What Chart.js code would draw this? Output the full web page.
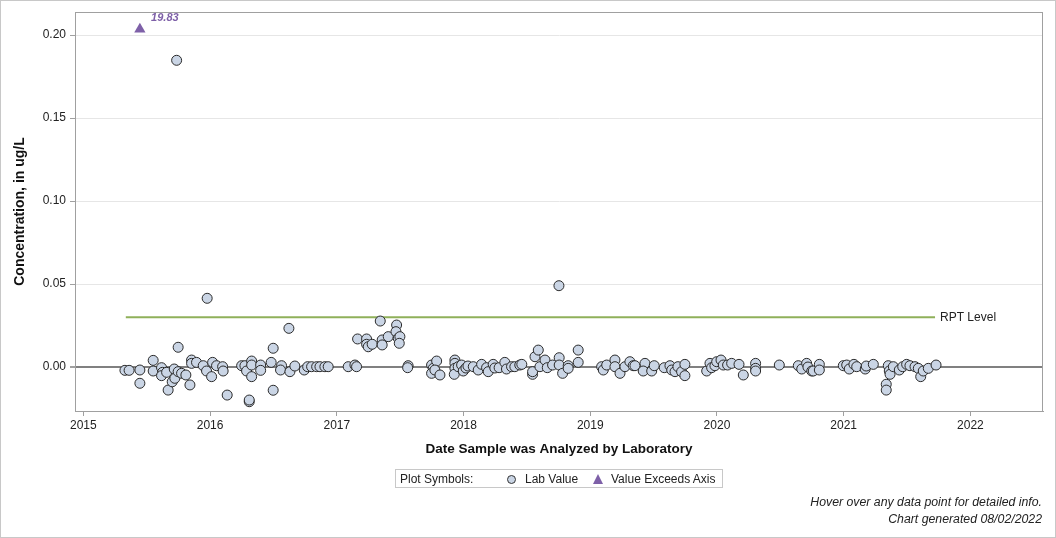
<!DOCTYPE html>
<html>
<head>
<meta charset="utf-8">
<script src="https://cdn.jsdelivr.net/npm/chart.js@4/dist/chart.umd.min.js"></script>
<style>
  html, body { margin: 0; padding: 0; background: #fff; }
  #wrap { position: relative; width: 1056px; height: 538px; overflow: hidden; font-family: "Liberation Sans", Arial, sans-serif; }
  #frame { position: absolute; left: 0; top: 0; width: 1056px; height: 538px; box-sizing: border-box; border: 1px solid #c8c8c8; pointer-events: none; }
  #legend { position: absolute; left: 395px; top: 469px; width: 328px; height: 19px; box-sizing: border-box; border: 1px solid #c8c8c8; font-size: 12px; color: #222; white-space: nowrap; }
  #legend span { position: absolute; top: 2px; }
  #legend .dot { position: absolute; top: 5px; width: 7px; height: 7px; border-radius: 50%; background: #cad5e5; border: 1px solid #333; }
  #legend .tri { position: absolute; top: 4px; width: 0; height: 0; border-left: 5px solid transparent; border-right: 5px solid transparent; border-bottom: 10px solid #7e60a8; }
  .foot { position: absolute; right: 14px; font-size: 12.3px; font-style: italic; color: #222; }
</style>
</head>
<body>
<div id="wrap">
  <canvas id="c" width="1056" height="538"></canvas>
  <div id="legend">
    <span style="left:4px">Plot Symbols:</span>
    <div class="dot" style="left:111px"></div>
    <span style="left:129px">Lab Value</span>
    <div class="tri" style="left:197px"></div>
    <span style="left:215px">Value Exceeds Axis</span>
  </div>
  <div class="foot" style="top:495px">Hover over any data point for detailed info.</div>
  <div class="foot" style="top:512px">Chart generated 08/02/2022</div>
  <div id="frame"></div>
</div>
<script>
// ---- data (decimal year of analysis, concentration in ug/L) ----
const labDates = [
  2015.328, 2015.361, 2015.446, 2015.446, 2015.551, 2015.551, 2015.617, 2015.625, 2015.617, 2015.657,
  2015.717, 2015.748, 2015.669, 2015.701, 2015.722, 2015.748, 2015.775, 2015.809, 2015.841, 2015.854,
  2015.854, 2015.893, 2015.946, 2015.972, 2015.977, 2016.012, 2016.020, 2016.051, 2016.099, 2016.103,
  2016.135, 2016.249, 2016.275, 2016.288, 2016.328, 2016.328, 2016.328, 2016.309, 2016.309, 2016.399,
  2016.399, 2016.482, 2016.498, 2016.498, 2016.564, 2016.556, 2016.622, 2016.630, 2016.669, 2016.743,
  2016.770, 2016.801, 2016.841, 2016.867, 2016.906, 2016.932, 2017.090, 2017.143, 2017.156, 2017.164,
  2017.235, 2017.235, 2017.248, 2017.279, 2017.343, 2017.358, 2017.358, 2017.406, 2017.472, 2017.467,
  2017.485, 2017.498, 2017.493, 2017.563, 2017.559, 2017.748, 2017.761, 2017.748, 2017.788, 2017.774,
  2017.814, 2017.932, 2017.932, 2017.932, 2017.927, 2017.958, 2017.985, 2017.998, 2018.019, 2018.035,
  2018.077, 2018.116, 2018.143, 2018.182, 2018.195, 2018.234, 2018.247, 2018.281, 2018.326, 2018.339,
  2018.379, 2018.405, 2018.444, 2018.460, 2018.545, 2018.545, 2018.564, 2018.590, 2018.603, 2018.643,
  2018.661, 2018.703, 2018.753, 2018.755, 2018.755, 2018.782, 2018.826, 2018.826, 2018.905, 2018.905,
  2019.090, 2019.103, 2019.130, 2019.195, 2019.195, 2019.235, 2019.274, 2019.313, 2019.339, 2019.353,
  2019.432, 2019.418, 2019.485, 2019.505, 2019.584, 2019.629, 2019.643, 2019.669, 2019.692, 2019.721,
  2019.747, 2019.747, 2019.919, 2019.945, 2019.958, 2019.984, 2019.998, 2020.032, 2020.050, 2020.084,
  2020.116, 2020.174, 2020.208, 2020.305, 2020.305, 2020.305, 2020.492, 2020.642, 2020.669, 2020.708,
  2020.718, 2020.748, 2020.760, 2020.808, 2020.808, 2020.997, 2021.024, 2021.044, 2021.081, 2021.103,
  2021.170, 2021.178, 2021.234, 2021.336, 2021.336, 2021.352, 2021.360, 2021.366, 2021.392, 2021.439,
  2021.466, 2021.497, 2021.523, 2021.563, 2021.589, 2021.608, 2021.628, 2021.668, 2021.729, 2015.736
];
const labValues = [
  -0.0020, -0.0020, -0.0018, -0.0098, 0.0040, -0.0024, -0.0004, -0.0032, -0.0052, -0.0032,
  -0.0012, 0.0119, -0.0139, -0.0089, -0.0068, -0.0028, -0.0038, -0.0048, -0.0108, 0.0042,
  0.0022, 0.0028, 0.0008, -0.0024, 0.0414, -0.0058, 0.0028, 0.0008, 0.0002, -0.0024,
  -0.0169, 0.0008, 0.0008, -0.0024, 0.0036, 0.0012, -0.0058, -0.0209, -0.0199, 0.0012,
  -0.0020, 0.0028, 0.0113, -0.0140, 0.0008, -0.0018, 0.0233, -0.0028, 0.0006, -0.0018,
  0.0002, 0.0002, 0.0002, 0.0002, 0.0002, 0.0002, 0.0002, 0.0012, 0.0002, 0.0169,
  0.0169, 0.0137, 0.0122, 0.0137, 0.0277, 0.0163, 0.0133, 0.0183, 0.0253, 0.0213,
  0.0173, 0.0183, 0.0143, 0.0008, -0.0004, 0.0012, -0.0008, -0.0038, 0.0036, -0.0018,
  -0.0048, 0.0042, 0.0022, -0.0008, -0.0044, 0.0002, 0.0012, -0.0024, -0.0006, 0.0006,
  0.0002, -0.0018, 0.0016, -0.0004, -0.0028, 0.0016, -0.0006, -0.0004, 0.0028, -0.0012,
  0.0002, 0.0002, 0.0012, 0.0016, -0.0044, -0.0028, 0.0062, 0.0102, 0.0002, 0.0042,
  -0.0004, 0.0012, 0.0490, 0.0056, 0.0012, -0.0038, 0.0008, -0.0008, 0.0102, 0.0028,
  0.0002, -0.0018, 0.0012, 0.0042, 0.0002, -0.0038, 0.0002, 0.0032, 0.0008, 0.0008,
  0.0022, -0.0024, -0.0024, 0.0008, -0.0004, 0.0008, -0.0018, -0.0028, 0.0002, -0.0028,
  0.0016, -0.0052, -0.0024, 0.0022, -0.0004, 0.0008, 0.0032, 0.0042, 0.0012, 0.0012,
  0.0022, 0.0016, -0.0048, 0.0022, -0.0008, -0.0024, 0.0012, 0.0008, -0.0012, 0.0022,
  0.0000, -0.0024, -0.0024, 0.0016, -0.0018, 0.0008, 0.0012, -0.0012, 0.0016, 0.0002,
  -0.0012, 0.0006, 0.0016, -0.0104, -0.0139, 0.0008, -0.0024, -0.0044, 0.0002, -0.0018,
  0.0002, 0.0016, 0.0008, 0.0002, -0.0008, -0.0058, -0.0024, -0.0008, 0.0012, 0.1848
];
// value exceeding the axis: plotted at the axis cap, actual value shown as label
const exceedDates = [2015.446];
const exceedPlotValues = [0.2035];
const exceedLabels = ["19.83"];
// reporting level line
const rptLevel = 0.03;
const rptStart = 2015.335;
const rptEnd = 2021.721;
const rptLabel = "RPT Level";
// axes
const xTicks = [2015, 2016, 2017, 2018, 2019, 2020, 2021, 2022];
const yTicks = [0.00, 0.05, 0.10, 0.15, 0.20];
const xMin = 2014.934, xMax = 2022.573;
const yMin = -0.0265, yMax = 0.2139;

const FONT = '"Liberation Sans", Arial, sans-serif';

const annotate = {
  id: 'annotate',
  afterDraw(chart) {
    const {ctx, chartArea: a, scales: {x, y}} = chart;
    ctx.save();
    // plot frame
    ctx.strokeStyle = '#a0a0a0';
    ctx.lineWidth = 1;
    ctx.strokeRect(a.left + 0.5, a.top + 0.5, a.right - a.left - 1, a.bottom - a.top);
    // RPT label
    ctx.fillStyle = '#222';
    ctx.font = '12px ' + FONT;
    ctx.textBaseline = 'middle';
    ctx.textAlign = 'left';
    ctx.fillText(rptLabel, x.getPixelForValue(rptEnd) + 5, y.getPixelForValue(rptLevel));
    // exceed labels
    ctx.fillStyle = '#7e60a8';
    ctx.font = 'italic bold 11px ' + FONT;
    ctx.textAlign = 'center';
    exceedDates.forEach((d, i) => {
      ctx.fillText(exceedLabels[i], x.getPixelForValue(d) + 25, y.getPixelForValue(exceedPlotValues[i]) - 11);
    });
    ctx.restore();
  }
};

new Chart(document.getElementById('c'), {
  type: 'scatter',
  data: {
    datasets: [
      {
        label: 'Lab Value',
        data: labDates.map((d, i) => ({x: d, y: labValues[i]})),
        pointRadius: 5,
        pointHoverRadius: 5,
        pointBackgroundColor: '#cad5e5',
        pointBorderColor: '#2a2a2a',
        pointBorderWidth: 1,
        order: 1
      },
      {
        label: 'Value Exceeds Axis',
        data: exceedDates.map((d, i) => ({x: d, y: exceedPlotValues[i]})),
        pointStyle: 'triangle',
        pointRadius: 6.5,
        pointBackgroundColor: '#7e60a8',
        pointBorderColor: '#7e60a8',
        pointBorderWidth: 0,
        order: 1
      },
      {
        label: 'RPT Level',
        type: 'line',
        data: [{x: rptStart, y: rptLevel}, {x: rptEnd, y: rptLevel}],
        borderColor: '#8fb05a',
        borderWidth: 2,
        pointRadius: 0,
        showLine: true,
        order: 2
      }
    ]
  },
  options: {
    responsive: false,
    devicePixelRatio: 1,
    animation: false,
    events: [],
    layout: { padding: { left: 0, top: 12, right: 13, bottom: 80 } },
    plugins: { legend: { display: false }, tooltip: { enabled: false } },
    scales: {
      x: {
        type: 'linear',
        min: xMin, max: xMax,
        afterBuildTicks: s => { s.ticks = xTicks.map(v => ({value: v})); },
        afterFit: s => { s.height = 47; },
        ticks: { callback: v => String(v), color: '#222', font: {family: FONT, size: 12}, padding: 2, maxRotation: 0 },
        grid: { drawOnChartArea: false, tickLength: 5, tickColor: '#a0a0a0' },
        border: { color: '#a0a0a0' },
        title: { display: true, text: 'Date Sample was Analyzed by Laboratory', color: '#111',
                 font: {family: FONT, size: 13.5, weight: 'bold'}, padding: {top: 0, bottom: 1} }
      },
      y: {
        type: 'linear',
        min: yMin, max: yMax,
        afterBuildTicks: s => { s.ticks = yTicks.map(v => ({value: v})); },
        afterFit: s => { s.width = 75; },
        ticks: { callback: v => v.toFixed(2), color: '#222', font: {family: FONT, size: 12}, padding: 4 },
        grid: {
          color: c => (c.tick && c.tick.value === 0) ? '#808080' : '#e6e6e6',
          lineWidth: c => (c.tick && c.tick.value === 0) ? 2 : 1,
          tickLength: 5, tickColor: '#a0a0a0'
        },
        border: { color: '#a0a0a0' },
        title: { display: true, text: 'Concentration, in ug/L', color: '#111',
                 font: {family: FONT, size: 14, weight: 'bold'}, padding: {top: 12, bottom: 0} }
      }
    }
  },
  plugins: [annotate]
});
</script>
</body>
</html>
